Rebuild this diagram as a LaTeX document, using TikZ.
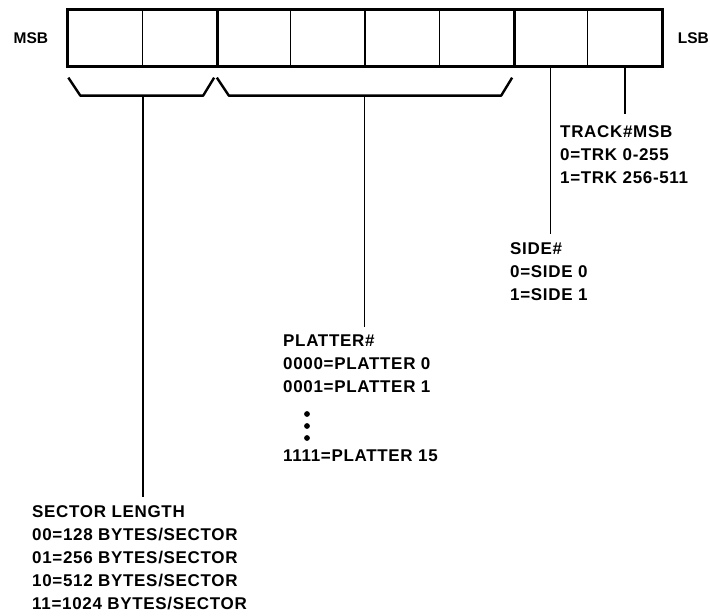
\documentclass[tikz,border=0pt]{standalone}
\usepackage{fontspec}
\setmainfont{Liberation Sans}
\newfontfamily\fieldfont{Liberation Sans}[LetterSpace=4]
\usetikzlibrary{positioning,calc}

\begin{document}
\begin{tikzpicture}[
    x=1pt, y=1pt,
    cell/.style={draw, line width=1.3pt, minimum width=74.25pt, minimum height=56pt, inner sep=0pt},
    frame/.style={line width=3.2pt, line join=miter},
    brace/.style={line width=2.4pt, line join=round},
    lead/.style={line width=1.5pt, shorten >=8pt},
    field/.style={inner sep=0pt, align=left, anchor=north west, font=\fieldfont\fontsize{17}{23}\selectfont\bfseries},
    endlabel/.style={inner sep=0pt, font=\fontsize{15.5}{20}\selectfont\bfseries}
  ]
    \useasboundingbox (0,0) rectangle (710,-616);
    \foreach \i in {1,...,8}
      \node[cell] (c\i) at ({68+74.25*(\i-0.5)},-38) {};
    \draw[frame] (c1.north west) rectangle (c8.south east);
    \draw[frame] (c2.north east) -- (c2.south east);
    \draw[frame] (c6.north east) -- (c6.south east);
    \node[endlabel, left=19pt of c1] (msb) {MSB};
    \node[endlabel, right=15pt of c8] (lsb) {LSB};
    \draw[brace] ($(c1.south west)+(1,-11)$) -- ++(12,-18) -- ($(c2.south east)+(-14,-29)$) -- ($(c2.south east)+(-3,-11)$);
    \draw[brace] ($(c3.south west)+(1,-11)$) -- ++(12,-18) -- ($(c6.south east)+(-13,-29)$) -- ($(c6.south east)+(-2,-11)$);
    \coordinate (sectmid) at ($(c1.south east)+(0,-29)$);
    \coordinate (platmid) at ($(c4.south east)+(-1,-29)$);
    \node[field] (sectlabel) at (32,-505) {SECTOR LENGTH\\00=128 BYTES/SECTOR\\01=256 BYTES/SECTOR\\10=512 BYTES/SECTOR\\11=1024 BYTES/SECTOR};
    \node[field] (platlabel) at (283,-335) {PLATTER\#\\0000=PLATTER 0\\0001=PLATTER 1\\[46pt]1111=PLATTER 15};
    \node[field] (sidelabel) at (510,-242) {SIDE\#\\0=SIDE 0\\1=SIDE 1};
    \node[field] (tracklabel) at (560,-125) {TRACK\#MSB\\0=TRK 0-255\\1=TRK 256-511};
    \foreach \dy in {79,91,103}
      \fill ($(platlabel.north west)+(24,-\dy)$) circle (2.9);
    \draw[lead] (sectmid) -- (sectmid |- sectlabel.north);
    \draw[lead] (platmid) -- (platmid |- platlabel.north);
    \draw[lead] (c7.south) -- (c7.south |- sidelabel.north);
    \draw[lead, shorten >=11pt] (c8.south) -- (c8.south |- tracklabel.north);
  \end{tikzpicture}
\end{document}
